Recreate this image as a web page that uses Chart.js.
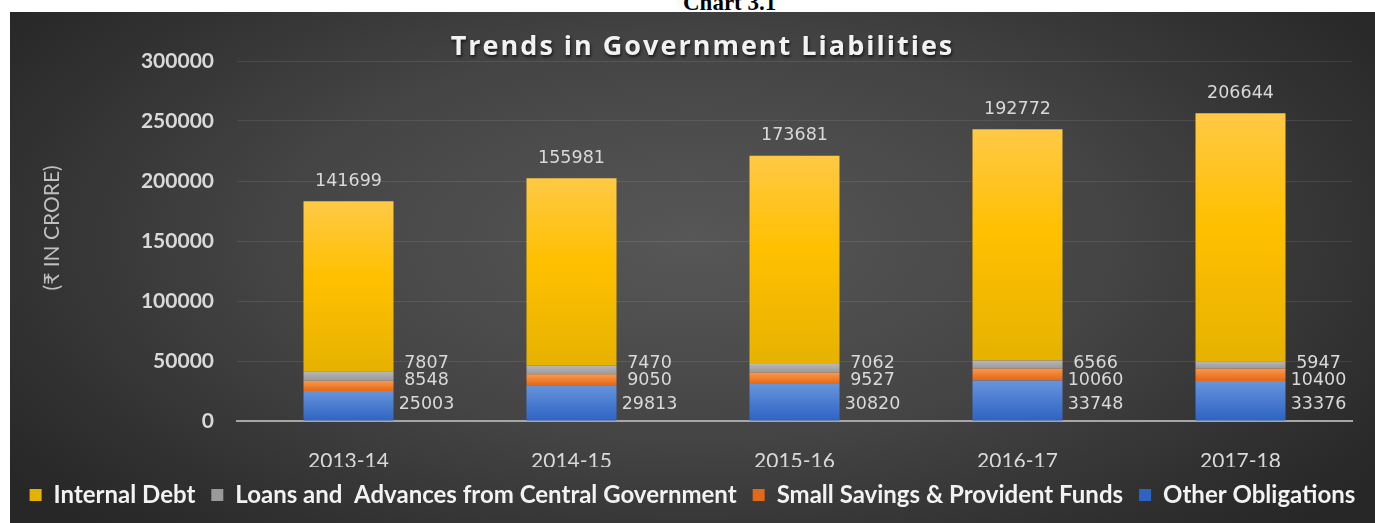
<!DOCTYPE html>
<html>
<head>
<meta charset="utf-8">
<script src="https://cdn.jsdelivr.net/npm/chart.js@4.4.1/dist/chart.umd.min.js"></script>
<style>
  html, body { margin:0; padding:0; background:#ffffff; }
  body { width:1375px; height:523px; position:relative; overflow:hidden; }
  #cap { position:absolute; left:0; top:0; width:1375px; height:12px; overflow:hidden; }
  #cap span { position:absolute; left:683px; top:-9px; font-family:"Liberation Serif", serif; font-weight:bold; font-size:23px; line-height:23px; color:#000; white-space:nowrap; }
  #panel { position:absolute; left:10px; top:12px; width:1365px; height:511px;
    background: radial-gradient(ellipse 62% 78% at 50% 45%, #575757 0%, #444444 50%, #2f2f2f 85%, #272727 100%); }
  canvas { position:absolute; left:0; top:0; }
</style>
</head>
<body>
<div id="cap"><span>Chart 3.1</span></div>
<div id="panel"><canvas id="c" width="1365" height="511"></canvas></div>
<script>
// ---- data ----
const categories = ['2013-14', '2014-15', '2015-16', '2016-17', '2017-18'];
const internalDebt = [141699, 155981, 173681, 192772, 206644];
const loansAdvances = [7807, 7470, 7062, 6566, 5947];
const smallSavings = [8548, 9050, 9527, 10060, 10400];
const otherObligations = [25003, 29813, 30820, 33748, 33376];
const yTicks = [0, 50000, 100000, 150000, 200000, 250000, 300000];

// bottom-to-top stacking order
const stackSeries = [otherObligations, smallSavings, loansAdvances, internalDebt];

function segmentGradient(stops, solid) {
  return (context) => {
    const chart = context.chart;
    if (context.type !== 'data' || !chart.chartArea || !chart.scales.y) return solid;
    const d = context.datasetIndex, i = context.dataIndex;
    let bottom = 0;
    for (let k = 0; k < d; k++) bottom += stackSeries[k][i];
    const top = bottom + stackSeries[d][i];
    const y0 = chart.scales.y.getPixelForValue(top);
    const y1 = chart.scales.y.getPixelForValue(bottom);
    if (!isFinite(y0) || !isFinite(y1) || y0 === y1) return solid;
    const g = chart.ctx.createLinearGradient(0, y0, 0, y1);
    stops.forEach(s => g.addColorStop(s[0], s[1]));
    return g;
  };
}

// letter-spaced, shadowed chart title (wraps the library's own title block)
const titleStyle = {
  id: 'titleStyle',
  afterLayout(chart) {
    const t = chart.titleBlock;
    if (t && !t._styled) {
      const orig = t.draw.bind(t);
      t.draw = function () {
        const ctx = this.ctx;
        ctx.save();
        ctx.translate(10, 0);
        ctx.letterSpacing = '2px';
        ctx.shadowColor = 'rgba(0,0,0,0.65)';
        ctx.shadowBlur = 3;
        ctx.shadowOffsetX = 1;
        ctx.shadowOffsetY = 2;
        orig();
        ctx.restore();
      };
      t._styled = true;
    }
  }
};

const valueLabels = {
  id: 'valueLabels',
  afterDatasetsDraw(chart) {
    const ctx = chart.ctx;
    const m = [0, 1, 2, 3].map(i => chart.getDatasetMeta(i));
    ctx.save();
    ctx.font = '17.5px "DejaVu Sans"';
    ctx.fillStyle = '#d9d9d9';
    ctx.textAlign = 'center';
    ctx.textBaseline = 'middle';
    categories.forEach((c, i) => {
      const top = m[3].data[i];
      const base = m[0].data[i].base;
      const right = top.x + top.width / 2;
      ctx.fillText(String(internalDebt[i]), top.x, top.y - 20);
      ctx.fillText(String(loansAdvances[i]), right + 33, base - 57);
      ctx.fillText(String(smallSavings[i]), right + 33, base - 40);
      ctx.fillText(String(otherObligations[i]), right + 33, base - 16);
    });
    ctx.restore();
  }
};

const barCommon = { stack: 's', barPercentage: 1, categoryPercentage: 0.4036, borderWidth: 0 };

new Chart(document.getElementById('c'), {
  type: 'bar',
  data: {
    labels: categories,
    datasets: [
      Object.assign({ label: 'Other Obligations', data: otherObligations,
        backgroundColor: segmentGradient([[0, '#6794dc'], [0.5, '#4a7bd0'], [1, '#2e63c2']], '#4472c4') }, barCommon),
      Object.assign({ label: 'Small Savings & Provident Funds', data: smallSavings,
        backgroundColor: segmentGradient([[0, '#f79a56'], [0.5, '#f07f2e'], [1, '#e2691a']], '#ed7d31') }, barCommon),
      Object.assign({ label: 'Loans and  Advances from Central Government', data: loansAdvances,
        backgroundColor: segmentGradient([[0, '#b8b8b8'], [0.5, '#a8a8a8'], [1, '#9a9a9a']], '#a5a5a5') }, barCommon),
      Object.assign({ label: 'Internal Debt', data: internalDebt,
        backgroundColor: segmentGradient([[0, '#ffc945'], [0.45, '#ffc000'], [1, '#e6b200']], '#ffc000') }, barCommon)
    ]
  },
  options: {
    responsive: false,
    animation: false,
    devicePixelRatio: 1,
    layout: { padding: { left: 0, right: 0, top: 0, bottom: 6 } },
    plugins: {
      title: {
        display: true,
        text: 'Trends in Government Liabilities',
        color: '#f2f2f2',
        font: { family: '"Open Sans", Lato, sans-serif', size: 27, weight: 'bold', lineHeight: 1 },
        padding: { top: 22, bottom: 0 }
      },
      legend: {
        position: 'bottom',
        reverse: true,
        labels: {
          color: '#f2f2f2',
          font: { family: 'Lato, sans-serif', size: 24, weight: 'bold' },
          boxWidth: 12,
          boxHeight: 12,
          padding: 16
        }
      },
      tooltip: { enabled: false }
    },
    scales: {
      x: {
        stacked: true,
        grid: { display: false, drawTicks: false },
        border: { display: true, color: '#a6a6a6', width: 2 },
        ticks: { color: '#d9d9d9', font: { family: 'Lato, sans-serif', size: 21 }, padding: 28 },
        afterFit: (s) => { s.height = 46; }
      },
      y: {
        stacked: true,
        min: 0,
        max: 300000,
        afterBuildTicks: (s) => { s.ticks = yTicks.map(v => ({ value: v })); },
        afterFit: (s) => { s.width = 227; },
        ticks: {
          color: '#d9d9d9',
          font: { family: 'Lato, sans-serif', size: 21, weight: 'bold' },
          padding: 23,
          callback: (v) => String(v)
        },
        grid: { color: (c) => (c.tick && c.tick.value === 0) ? 'rgba(0,0,0,0)' : 'rgba(255,255,255,0.09)', drawTicks: false, lineWidth: 1 },
        border: { display: false },
        title: {
          display: true,
          text: '\u2003\u2002(₹ IN CRORE)',
          color: '#bfbfbf',
          font: { family: 'Lato, "Noto Sans", "DejaVu Sans", sans-serif', size: 21 },
          padding: { top: 30, bottom: 0 }
        }
      },
      yRight: {
        position: 'right',
        display: true,
        grid: { display: false, drawTicks: false },
        border: { display: false },
        ticks: { display: false },
        afterFit: (s) => { s.width = 23; }
      }
    }
  },
  plugins: [titleStyle, valueLabels]
});
</script>
</body>
</html>
